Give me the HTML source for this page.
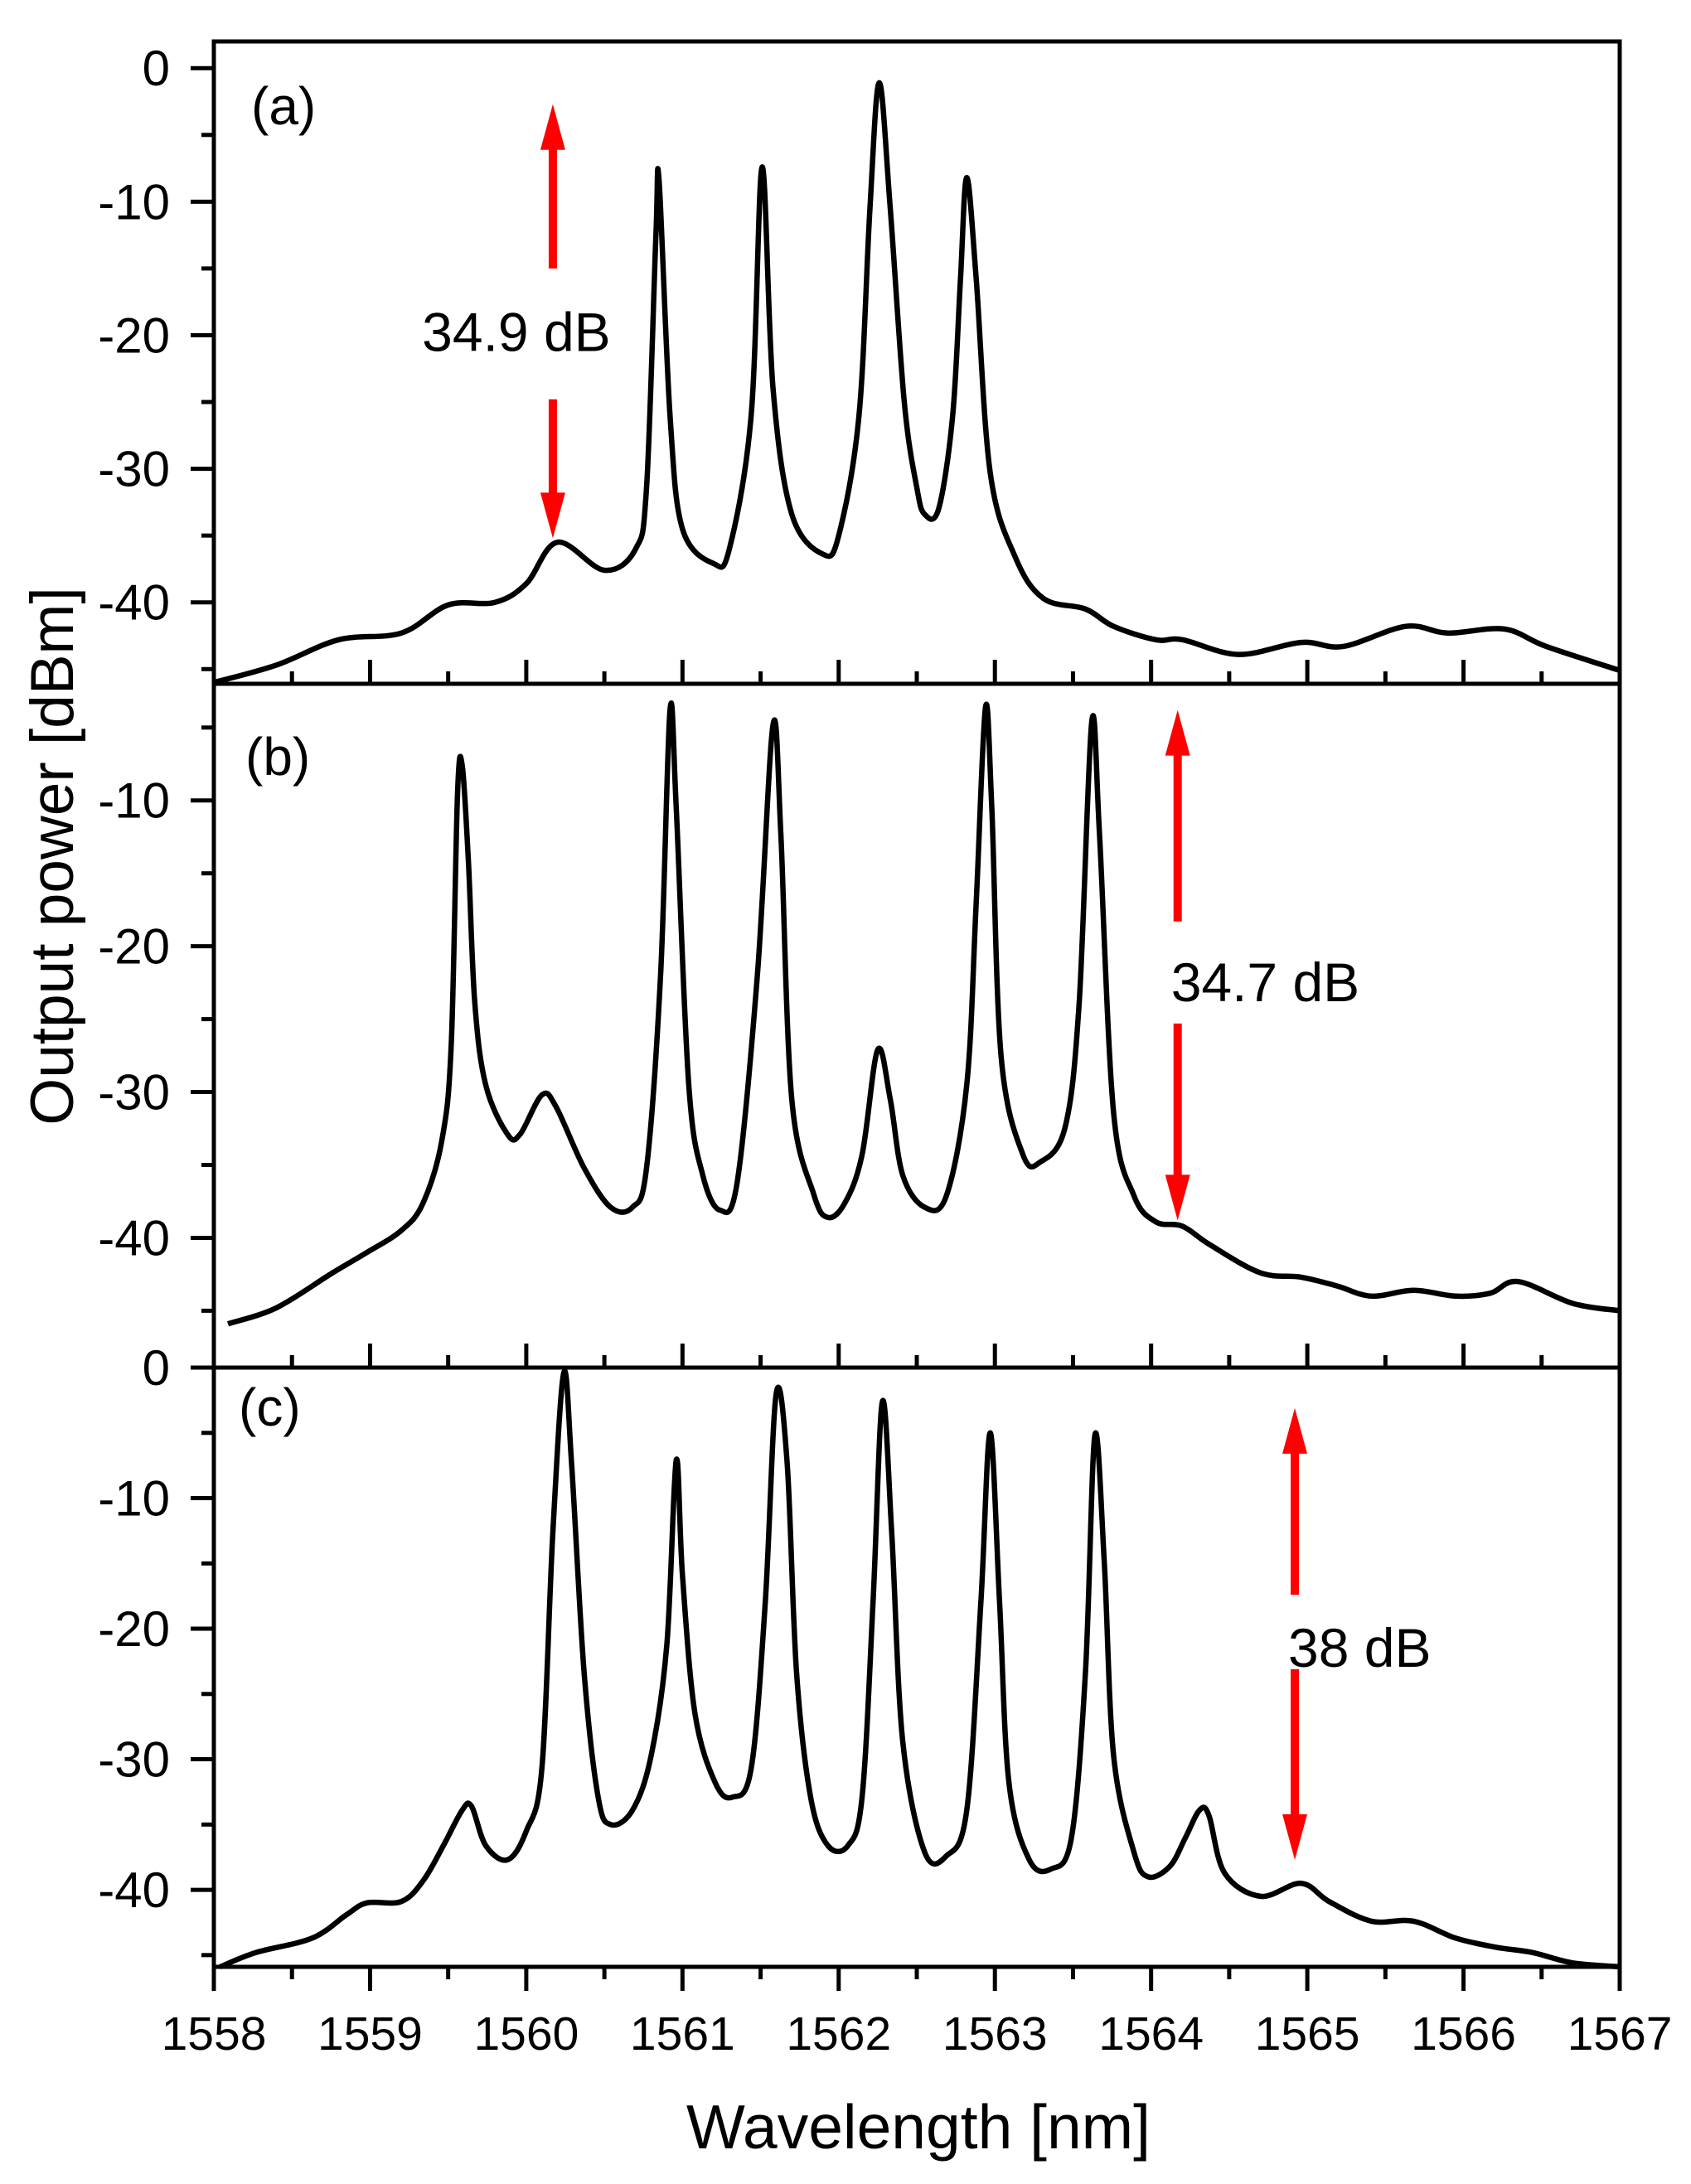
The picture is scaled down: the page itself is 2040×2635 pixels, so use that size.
<!DOCTYPE html>
<html><head><meta charset="utf-8"><style>
html,body{margin:0;padding:0;background:#fff}
svg{display:block}
text{font-family:"Liberation Sans",Arial,sans-serif}
</style></head><body>
<svg id="chart" width="2040" height="2635" viewBox="0 0 2040 2635" xmlns="http://www.w3.org/2000/svg"></svg>
<script>
const xTicks = [1558,1559,1560,1561,1562,1563,1564,1565,1566,1567];
const panelLabels = ["(a)","(b)","(c)"];
const yTicksA = [0,-10,-20,-30,-40];
const yTicksB = [-10,-20,-30,-40];
const yTicksC = [0,-10,-20,-30,-40];
const wlA = [1558.0,1558.4,1558.8,1559.2,1559.5,1559.8,1560.0,1560.2,1560.5,1560.7,1560.77,1560.83,1560.85,1560.92,1561.0,1561.2,1561.3,1561.44,1561.51,1561.58,1561.7,1561.9,1562.0,1562.13,1562.2,1562.26,1562.33,1562.42,1562.5,1562.55,1562.64,1562.73,1562.78,1562.82,1562.88,1562.97,1563.13,1563.31,1563.58,1563.76,1564.03,1564.2,1564.56,1564.96,1565.23,1565.63,1565.9,1566.26,1566.53,1567.0];
const dbA = [-46.0,-44.7,-42.8,-42.3,-40.2,-40.0,-38.6,-35.5,-37.6,-36.0,-31.4,-12.5,-8.4,-26.0,-34.5,-37.1,-36.0,-26.0,-7.4,-24.0,-33.4,-36.4,-35.0,-26.0,-10.5,-1.1,-10.5,-25.0,-31.4,-33.4,-33.0,-26.0,-15.7,-8.2,-15.7,-30.3,-36.6,-39.7,-40.5,-41.8,-42.8,-42.8,-43.9,-43.0,-43.3,-41.8,-42.3,-42.0,-43.3,-45.1];
const wlB = [1558.09,1558.4,1558.76,1558.98,1559.2,1559.34,1559.46,1559.52,1559.56,1559.59,1559.63,1559.67,1559.74,1559.88,1559.96,1560.1,1560.19,1560.37,1560.54,1560.68,1560.77,1560.86,1560.92,1560.96,1561.04,1561.13,1561.24,1561.35,1561.48,1561.58,1561.63,1561.7,1561.84,1561.93,1562.04,1562.15,1562.25,1562.33,1562.41,1562.55,1562.69,1562.82,1562.88,1562.94,1562.98,1563.04,1563.18,1563.29,1563.45,1563.54,1563.62,1563.67,1563.76,1563.89,1564.03,1564.2,1564.38,1564.7,1564.96,1565.19,1565.41,1565.68,1565.95,1566.17,1566.35,1566.7,1567.0];
const dbB = [-45.9,-44.8,-42.4,-41.0,-39.5,-37.6,-33.3,-26.7,-9.5,-7.6,-14.3,-23.8,-29.5,-32.9,-32.9,-30.2,-31.0,-35.2,-37.9,-37.9,-35.2,-21.9,-3.8,-10.5,-29.5,-35.7,-38.1,-36.2,-21.9,-4.8,-12.4,-30.5,-37.0,-38.6,-37.6,-34.3,-27.1,-30.5,-35.7,-37.9,-37.1,-29.5,-17.1,-3.6,-10.5,-27.6,-34.3,-34.8,-32.4,-23.8,-4.6,-12.4,-31.4,-37.1,-38.9,-39.2,-40.5,-42.4,-42.7,-43.3,-44.0,-43.6,-44.0,-43.8,-43.0,-44.5,-45.0];
const wlC = [1558.04,1558.27,1558.63,1558.85,1558.98,1559.2,1559.34,1559.47,1559.59,1559.65,1559.74,1559.88,1560.0,1560.1,1560.17,1560.24,1560.29,1560.37,1560.46,1560.54,1560.68,1560.8,1560.9,1560.96,1561.0,1561.08,1561.21,1561.32,1561.44,1561.53,1561.6,1561.67,1561.73,1561.82,1561.93,1562.06,1562.15,1562.22,1562.28,1562.34,1562.41,1562.55,1562.69,1562.82,1562.91,1562.97,1563.03,1563.09,1563.22,1563.36,1563.49,1563.58,1563.64,1563.7,1563.76,1563.89,1563.98,1564.12,1564.22,1564.31,1564.37,1564.47,1564.7,1564.96,1565.14,1565.41,1565.68,1565.95,1566.21,1566.44,1566.7,1567.0];
const dbC = [-45.9,-44.8,-43.7,-41.9,-41.0,-40.9,-39.3,-36.6,-33.9,-33.6,-36.6,-37.7,-35.5,-30.7,-12.7,-0.4,-7.3,-23.3,-32.9,-35.0,-33.9,-29.7,-21.2,-7.1,-15.9,-26.5,-31.8,-32.9,-30.7,-18.0,-2.0,-7.3,-23.3,-32.9,-36.6,-36.6,-32.9,-18.0,-2.6,-12.7,-28.6,-37.1,-37.4,-33.9,-18.0,-5.0,-18.0,-31.8,-37.7,-38.4,-36.0,-23.3,-5.2,-14.8,-29.7,-37.1,-39.0,-38.2,-36.0,-33.9,-34.3,-38.7,-40.5,-39.5,-40.9,-42.4,-42.4,-43.7,-44.4,-44.8,-45.6,-45.9];
const annotText = ["34.9 dB","34.7 dB","38 dB"];
const annotWl = [1560.17,1564.17,1564.92];
const annotTop = [-2.7,-3.8,-3.1];
const annotBottom = [-35.2,-38.8,-37.7];
const annotMidHi = [-15.0,-18.3,-17.4];
const annotMidLo = [-24.8,-25.3,-23.1];
const annotTextDb = [-19.7,-22.4,-21.4];

const svg = document.getElementById('chart');
const NS = 'http://www.w3.org/2000/svg';
const X0 = 258, X1 = 1954;
const xs = v => X0 + (v - 1558) / 9 * (X1 - X0);
const panels = [
  {top:50, bot:825, ymax:2.0, ymin:-46.1, ticks:yTicksA, wl:wlA, db:dbA, bottomOut:false},
  {top:825, bot:1650, ymax:-2.0, ymin:-48.9, ticks:yTicksB, wl:wlB, db:dbB, bottomOut:false},
  {top:1650, bot:2373, ymax:0, ymin:-45.9, ticks:yTicksC, wl:wlC, db:dbC, bottomOut:true}
];
function mk(tag, attrs, parent){ const e=document.createElementNS(NS,tag); for(const k in attrs) e.setAttribute(k,attrs[k]); (parent||svg).appendChild(e); return e; }
function smooth(pts){
  let d='M'+pts[0][0].toFixed(1)+' '+pts[0][1].toFixed(1);
  for(let i=0;i<pts.length-1;i++){
    const p0=pts[Math.max(i-1,0)],p1=pts[i],p2=pts[i+1],p3=pts[Math.min(i+2,pts.length-1)];
    const t=0.17;
    const c1=[p1[0]+(p2[0]-p0[0])*t,p1[1]+(p2[1]-p0[1])*t];
    const c2=[p2[0]-(p3[0]-p1[0])*t,p2[1]-(p3[1]-p1[1])*t];
    d+=` C${c1[0].toFixed(1)} ${c1[1].toFixed(1)} ${c2[0].toFixed(1)} ${c2[1].toFixed(1)} ${p2[0].toFixed(1)} ${p2[1].toFixed(1)}`;
  }
  return d;
}

panels.forEach((p,i)=>{
  const ys = v => p.top + (p.ymax - v)/(p.ymax - p.ymin)*(p.bot - p.top);
  const g = mk('g',{});
  
  
  for(let v=Math.ceil(p.ymin/5)*5; v<=p.ymax; v+=5){
    const y=ys(v), major = (v%10===0);
    const t=mk('line',{x1:X0-(major?28:15),x2:X0,y1:y,y2:y,stroke:'#000','stroke-width':5},g);
    
    
  }
  p.ticks.forEach(v=>{
    const t=mk('text',{x:205,y:ys(v)+21,'font-size':60,'text-anchor':'end',fill:'#000'},g);
    t.textContent = v===0?'0':String(v);
    
    
  });
  for(let k=0;k<=18;k++){
    const v=1558+k*0.5, x=xs(v), major=(k%2===0), L=major?29:15;
    const t = p.bottomOut ? mk('line',{x1:x,x2:x,y1:p.bot,y2:p.bot+L,stroke:'#000','stroke-width':5},g)
                          : mk('line',{x1:x,x2:x,y1:p.bot-L,y2:p.bot,stroke:'#000','stroke-width':5},g);
    
    
  }
  const pts = p.wl.map((w,j)=>[xs(w),ys(p.db[j])]);
  const c=mk('path',{d:smooth(pts),fill:'none',stroke:'#000','stroke-width':6.5,'stroke-linejoin':'round'},g);
  
  
  const f=mk('rect',{x:X0,y:p.top,width:X1-X0,height:p.bot-p.top,fill:'none',stroke:'#000','stroke-width':5},g);
  
  
  const lb=mk('text',{x:[303,296,288][i],y:[150,935,1720][i],'font-size':64,fill:'#000'},g);
  lb.textContent=panelLabels[i];
  
  
  const ax = xs(annotWl[i]);
  const yt=ys(annotTop[i]), yb=ys(annotBottom[i]), yh=ys(annotMidHi[i]), yl=ys(annotMidLo[i]);
  const a1=mk('path',{d:`M${ax} ${yt} L${ax-15} ${yt+55} L${ax-5} ${yt+55} L${ax-5} ${yh} L${ax+5} ${yh} L${ax+5} ${yt+55} L${ax+15} ${yt+55} Z`,fill:'#ff0000'},g);
  
  
  const a2=mk('path',{d:`M${ax} ${yb} L${ax-15} ${yb-55} L${ax-5} ${yb-55} L${ax-5} ${yl} L${ax+5} ${yl} L${ax+5} ${yb-55} L${ax+15} ${yb-55} Z`,fill:'#ff0000'},g);
  
  
  const at=mk('text',{x:i===0?ax-44:ax-8,y:ys(annotTextDb[i])+24,'font-size':66,'text-anchor':i===0?'middle':'start',fill:'#000'},g);
  at.textContent=annotText[i];
  
  
});
xTicks.forEach(v=>{
  const t=mk('text',{x:xs(v),y:2473,'font-size':57,'text-anchor':'middle',fill:'#000'});
  t.textContent=String(v);
  
  
});
const xt=mk('text',{x:1108,y:2592,'font-size':75,'text-anchor':'middle',fill:'#000'});
xt.textContent='Wavelength [nm]';


const yt=mk('text',{x:0,y:0,'font-size':73,'text-anchor':'middle',fill:'#000',transform:'translate(88,1033) rotate(-90)'});
yt.textContent='Output power [dBm]';


</script>
</body></html>
